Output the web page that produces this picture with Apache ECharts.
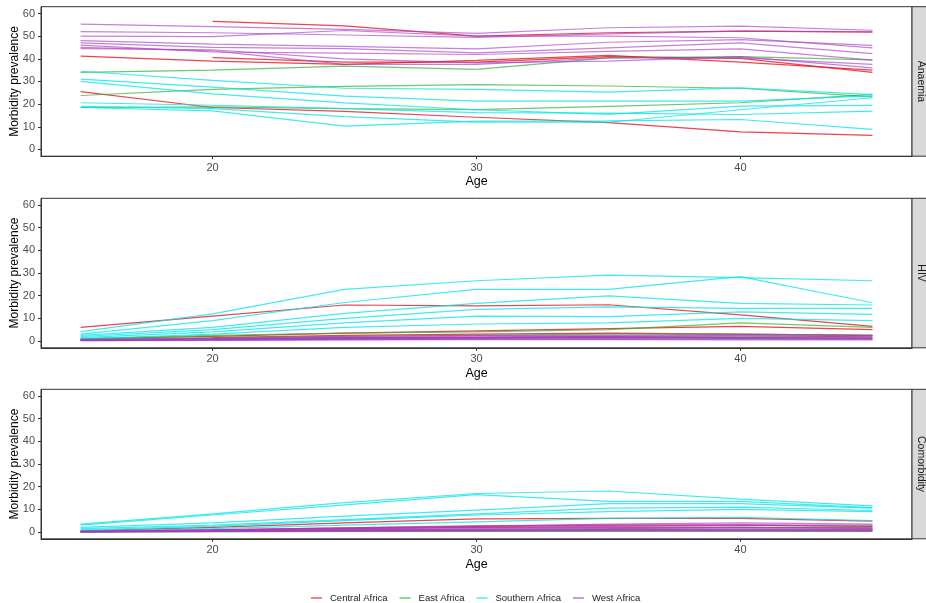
<!DOCTYPE html>
<html>
<head>
<meta charset="utf-8">
<script src="https://cdn.jsdelivr.net/npm/echarts@6/dist/echarts.min.js"></script>
<style>
  html, body { margin: 0; padding: 0; background: #fff; }
  #chart { width: 926px; height: 603px; }
</style>
</head>
<body>
<div id="chart"></div>
<script>
// Age groups on the x axis
const ages = [15, 20, 25, 30, 35, 40, 45];
const xTicks = [20, 30, 40];
const yTicks = [0, 10, 20, 30, 40, 50, 60];
const panels = ['Anaemia', 'HIV', 'Comorbidity'];
const regions = ['Central Africa', 'East Africa', 'Southern Africa', 'West Africa'];

// Prevalence (%) by country within each region, one row per country
const centralAnaemia = [
  [null, 56.5, 54.5, 50.0, 51.5, 52.2, 51.8],
  [41.2, 39.0, 37.5, 39.3, 41.5, 38.5, 35.0],
  [25.5, 18.5, 16.8, 14.2, 11.8, 7.7, 6.2],
  [null, 40.5, 38.5, 38.5, 41.0, 40.2, 34.0]
];
const eastAnaemia = [
  [34.0, 35.0, 36.8, 35.3, 40.4, 41.0, 39.5],
  [23.8, 26.5, 27.8, 28.6, 28.0, 27.0, 23.2],
  [18.5, 18.8, 18.0, 17.6, 19.0, 20.6, 24.3]
];
const southernAnaemia = [
  [34.5, 30.5, 27.0, 26.5, 25.3, 27.2, 24.2],
  [31.0, 27.5, 23.5, 21.3, 21.3, 21.3, 23.6],
  [30.0, 24.5, 20.5, 17.5, 15.5, 19.1, 19.4],
  [20.6, 19.5, 18.0, 16.2, 16.0, 15.4, 16.9],
  [18.5, 17.0, 10.3, 12.5, 12.6, 13.2, 8.8],
  [19.0, 18.0, 14.5, 12.0, 12.0, 17.5, 22.8]
];
const westAnaemia = [
  [55.3, 54.2, 53.0, 51.2, 53.7, 54.4, 52.6],
  [52.0, 51.5, 50.5, 49.5, 51.0, 52.2, 52.0],
  [50.0, 49.8, 52.5, 50.0, 50.0, 49.3, 44.8],
  [48.0, 46.5, 45.5, 44.4, 47.3, 48.5, 45.9],
  [47.0, 45.0, 44.5, 42.6, 44.8, 47.0, 42.3],
  [46.0, 43.0, 42.5, 41.9, 43.3, 44.4, 39.4],
  [45.0, 43.5, 37.5, 37.5, 40.4, 40.4, 37.5],
  [44.5, 44.0, 40.0, 38.2, 39.0, 41.0, 36.0]
];

const centralHIV = [
  [null, 1.5, 2.5, 3.0, 3.5, 3.0, 2.5],
  [6.0, 11.0, 15.9, 15.5, 16.0, 11.5, 6.5],
  [1.0, 2.0, 3.5, 4.5, 5.5, 6.5, 5.0],
  [null, 0.8, 1.2, 1.5, 1.8, 1.5, 2.2]
];
const eastHIV = [
  [1.0, 2.5, 3.5, 4.0, 5.0, 8.0, 6.0],
  [0.8, 1.5, 2.0, 2.5, 3.0, 3.0, 2.5],
  [0.5, 1.0, 1.5, 1.5, 2.0, 2.0, 1.5]
];
const southernHIV = [
  [4.1, 12.0, 22.8, 26.6, 29.1, 28.0, 26.6],
  [3.0, 9.0, 17.0, 22.8, 22.8, 28.4, 16.9],
  [2.5, 6.0, 12.2, 16.6, 19.9, 16.6, 15.9],
  [2.0, 5.0, 10.0, 14.0, 15.1, 14.4, 14.4],
  [1.5, 4.0, 8.0, 11.0, 10.8, 12.9, 11.8],
  [1.0, 3.0, 6.0, 7.5, 8.0, 10.0, 9.0]
];
const westHIV = [
  [0.5, 1.0, 1.5, 1.5, 1.5, 1.5, 1.5],
  [0.3, 0.5, 0.8, 1.0, 1.0, 1.0, 1.0],
  [0.5, 1.0, 1.5, 2.0, 2.0, 2.5, 2.0],
  [0.2, 0.4, 0.6, 0.8, 0.8, 0.8, 0.7],
  [0.4, 0.8, 1.2, 1.5, 1.8, 1.5, 1.2],
  [0.6, 1.2, 2.0, 2.5, 2.5, 2.8, 2.5],
  [0.2, 0.3, 0.5, 0.6, 0.6, 0.5, 0.5],
  [0.3, 0.7, 1.0, 1.2, 1.4, 1.2, 1.0]
];

const centralComorbidity = [
  [null, 0.8, 1.5, 2.0, 2.2, 2.0, 1.8],
  [0.5, 2.0, 4.0, 5.8, 6.0, 6.0, 4.8],
  [0.3, 1.0, 1.8, 2.5, 3.0, 3.0, 2.5],
  [null, 0.4, 0.6, 0.8, 1.0, 0.8, 1.0]
];
const eastComorbidity = [
  [0.2, 0.5, 1.0, 1.2, 1.5, 2.0, 1.8],
  [0.1, 0.3, 0.5, 0.6, 0.7, 0.6, 0.5],
  [0.1, 0.2, 0.3, 0.3, 0.4, 0.4, 0.3]
];
const southernComorbidity = [
  [3.5, 8.0, 13.0, 17.0, 18.1, 14.5, 11.5],
  [3.0, 7.5, 12.0, 16.5, 13.5, 13.5, 10.8],
  [2.0, 4.0, 7.0, 9.7, 12.5, 12.5, 10.5],
  [1.5, 3.0, 5.5, 8.0, 10.5, 11.0, 9.5],
  [1.0, 2.5, 5.0, 7.5, 9.0, 10.0, 9.0],
  [0.5, 1.5, 3.0, 4.5, 6.0, 6.5, 5.0]
];
const westComorbidity = [
  [0.3, 0.8, 1.5, 2.5, 3.5, 4.0, 3.5],
  [0.2, 0.4, 0.8, 1.0, 1.2, 1.2, 1.0],
  [0.3, 0.7, 1.2, 2.0, 2.5, 3.0, 2.5],
  [0.1, 0.3, 0.5, 0.6, 0.7, 0.7, 0.6],
  [0.2, 0.5, 1.0, 1.5, 2.0, 2.0, 1.5],
  [0.4, 1.0, 1.8, 2.8, 3.0, 3.2, 3.0],
  [0.1, 0.2, 0.3, 0.4, 0.4, 0.4, 0.4],
  [0.2, 0.5, 0.8, 1.2, 1.5, 1.4, 1.2]
];

const panelData = [
  [centralAnaemia, eastAnaemia, southernAnaemia, westAnaemia],
  [centralHIV, eastHIV, southernHIV, westHIV],
  [centralComorbidity, eastComorbidity, southernComorbidity, westComorbidity]
];

const regionColors = ['#e8141e', '#2fb030', '#00e4e8', '#a83cc8'];
const regionOpacity = [0.8, 0.7, 0.75, 0.65];

// Layout of the three stacked facets
const FONT = 'Liberation Sans, Arial, sans-serif';
const gridLeft = 41, gridRight = 926 - 912, gridHeight = 149.5;
const gridTops = [6.7, 198.3, 389.3];

const grids = [], xAxes = [], yAxes = [], series = [], graphics = [];

panels.forEach((panel, p) => {
  grids.push({
    left: gridLeft, right: gridRight, top: gridTops[p], height: gridHeight,
    containLabel: false, outerBoundsMode: 'none',
    show: true, borderColor: '#333', borderWidth: 1, backgroundColor: '#fff'
  });
  xAxes.push({
    type: 'value', gridIndex: p, min: 13.5, max: 46.5,
    name: 'Age', nameLocation: 'middle', nameGap: 19, nameMoveOverlap: false,
    nameTextStyle: { color: '#000', fontSize: 12.5, fontFamily: FONT },
    axisLine: { show: true, onZero: false, lineStyle: { color: '#333', width: 1 } },
    axisTick: { show: true, customValues: xTicks, length: 3, lineStyle: { color: '#333' } },
    axisLabel: { customValues: xTicks, color: '#4d4d4d', fontSize: 11, fontFamily: FONT, margin: 6 },
    splitLine: { show: false }
  });
  yAxes.push({
    type: 'value', gridIndex: p, min: -3, max: 63,
    name: 'Morbidity prevalence', nameLocation: 'middle', nameGap: 20, nameMoveOverlap: false,
    nameTextStyle: { color: '#000', fontSize: 12, fontFamily: FONT },
    axisLine: { show: true, onZero: false, lineStyle: { color: '#333', width: 1 } },
    axisTick: { show: true, customValues: yTicks, length: 3, lineStyle: { color: '#333' } },
    axisLabel: { customValues: yTicks, color: '#4d4d4d', fontSize: 11, fontFamily: FONT, margin: 6 },
    splitLine: { show: false }
  });

  panelData[p].forEach((rows, r) => {
    rows.forEach(vals => {
      series.push({
        type: 'line', name: regions[r], xAxisIndex: p, yAxisIndex: p,
        data: ages.map((a, i) => [a, vals[i]]),
        symbol: 'none', showSymbol: false, connectNulls: false, silent: true,
        color: regionColors[r],
        lineStyle: { width: 1.2, color: regionColors[r], opacity: regionOpacity[r] }
      });
    });
  });

  // Facet strip on the right-hand side
  graphics.push({
    type: 'rect', z: 10,
    shape: { x: 912, y: gridTops[p], width: 22, height: gridHeight },
    style: { fill: '#d9d9d9', stroke: '#333', lineWidth: 1 }
  });
  graphics.push({
    type: 'text', z: 11, x: 921, y: gridTops[p] + gridHeight / 2, rotation: -Math.PI / 2,
    style: { text: panel, fill: '#1a1a1a', font: '10.5px ' + FONT, align: 'center', verticalAlign: 'middle' }
  });
});

const chart = echarts.init(document.getElementById('chart'), null, { renderer: 'canvas' });
chart.setOption({
  animation: false,
  backgroundColor: '#fff',
  grid: grids,
  xAxis: xAxes,
  yAxis: yAxes,
  legend: {
    data: regions, left: 306, top: 588, orient: 'horizontal',
    icon: 'rect', itemWidth: 11, itemHeight: 1.5, itemGap: 12,
    textStyle: { color: '#1a1a1a', fontSize: 9.5, fontFamily: FONT, padding: [0, 0, 0, 3] },
    itemStyle: { opacity: 0.7 }
  },
  graphic: graphics,
  series: series
});
</script>
</body>
</html>
